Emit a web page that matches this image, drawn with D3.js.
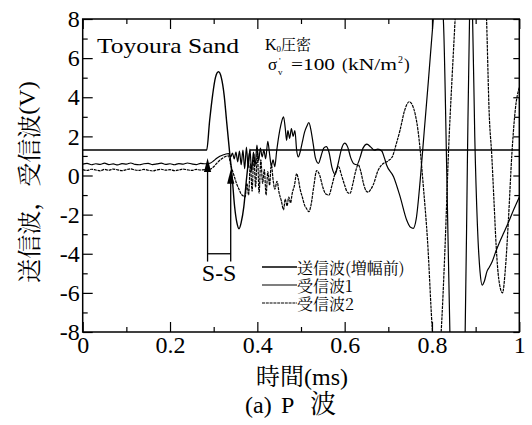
<!DOCTYPE html>
<html>
<head>
<meta charset="utf-8">
<script src="https://cdn.jsdelivr.net/npm/d3@7"></script>
<style>
  body { margin: 0; background: #fff; }
  svg { display: block; }
  .serif { font-family: "Liberation Serif", "DejaVu Serif", serif; }
  .cjk { font-family: "Noto Serif CJK JP", "Noto Sans CJK JP", serif; }
</style>
</head>
<body>
<svg id="chart" width="532" height="425"></svg>
<script>
// ---- axis ticks ----
const xTicks = [0, 0.2, 0.4, 0.6, 0.8, 1];
const xTickLabels = ["0", "0.2", "0.4", "0.6", "0.8", "1"];
const xMinorTicks = [0.1, 0.3, 0.5, 0.7, 0.9];
const yTicks = [-8, -6, -4, -2, 0, 2, 4, 6, 8];
const yTickLabels = ["-8", "-6", "-4", "-2", "0", "2", "4", "6", "8"];
const yMinorTicks = [-7, -5, -3, -1, 1, 3, 5, 7];

const seriesNames = ["送信波(増幅前)", "受信波1", "受信波2"];

// ---- waveforms: [time (ms), voltage (V)] ----
const txWave = [
  [0, 1.3], [0.284, 1.3], [0.2907, 2.8], [0.2975, 4.1], [0.304, 5.0], [0.311, 5.3],
  [0.3175, 5.0], [0.324, 4.1], [0.3295, 2.8], [0.336, 1.3], [0.342, 0.0], [0.348, -1.6],
  [0.353, -2.4], [0.358, -2.72], [0.363, -2.4], [0.369, -1.6], [0.376, 0.0], [0.384, 1.3],
  [1, 1.3]
];

const rx1Wave = [
  [0, 0.58], [0.01, 0.62], [0.02, 0.55], [0.03, 0.60], [0.04, 0.57], [0.05, 0.63], [0.06, 0.56],
  [0.07, 0.59], [0.08, 0.54], [0.09, 0.61], [0.10, 0.58], [0.11, 0.64], [0.12, 0.57], [0.13, 0.55],
  [0.14, 0.60], [0.15, 0.62], [0.16, 0.56], [0.17, 0.59], [0.18, 0.63], [0.19, 0.57], [0.20, 0.60],
  [0.21, 0.55], [0.22, 0.61], [0.23, 0.58], [0.24, 0.64], [0.25, 0.59], [0.26, 0.56], [0.27, 0.62],
  [0.28, 0.60], [0.285, 0.60], [0.293, 0.64], [0.300, 0.75], [0.307, 0.88], [0.314, 0.98],
  [0.321, 1.05], [0.328, 1.10], [0.334, 1.12], [0.339, 0.95], [0.343, 1.15], [0.347, 0.85],
  [0.351, 1.20], [0.355, 0.70], [0.359, 1.25], [0.363, 0.55], [0.367, 1.30], [0.371, 0.35],
  [0.375, 1.45], [0.379, 0.40], [0.383, 1.35], [0.387, 0.20], [0.391, 1.20], [0.395, 0.50],
  [0.399, 1.55], [0.403, 0.75], [0.407, 1.40], [0.411, 0.95], [0.415, 1.30], [0.419, 0.85],
  [0.424, 1.75], [0.428, 1.10], [0.432, 0.50], [0.436, 0.80], [0.440, 0.45], [0.444, 1.20],
  [0.449, 2.00], [0.454, 2.60], [0.460, 3.00], [0.464, 2.40], [0.467, 1.80], [0.470, 2.30],
  [0.474, 1.90], [0.478, 2.40], [0.482, 2.00], [0.486, 2.30], [0.490, 1.30], [0.494, 0.95],
  [0.498, 1.20], [0.503, 1.70], [0.508, 2.20], [0.513, 2.50], [0.518, 2.70], [0.523, 2.30],
  [0.528, 1.60], [0.533, 0.90], [0.540, 0.62], [0.546, 1.00], [0.552, 1.40], [0.558, 1.48],
  [0.564, 1.20], [0.571, 0.40], [0.578, 0.05], [0.585, 0.60], [0.592, 1.30], [0.600, 1.65],
  [0.607, 1.45], [0.614, 0.90], [0.621, 0.60], [0.628, 0.55], [0.635, 0.90], [0.642, 1.40],
  [0.651, 1.60], [0.660, 1.45], [0.668, 1.30], [0.676, 1.35], [0.685, 1.25], [0.691, 0.90],
  [0.696, 0.54], [0.712, -0.06], [0.727, -1.08], [0.742, -2.27], [0.751, -2.65], [0.757, -2.70],
  [0.764, -2.20], [0.773, -0.25], [0.782, 2.2], [0.792, 4.9], [0.803, 8.0], [0.814, 10.5],
  [0.826, 8.0], [0.834, 0.0], [0.841, -8.0], [0.858, -16.0], [0.876, -8.0], [0.881, 0.5],
  [0.886, 8.0], [0.8895, 9.6], [0.893, 8.0], [0.898, 2.0], [0.904, -2.5], [0.910, -4.9],
  [0.915, -5.6], [0.920, -5.4], [0.926, -4.9], [0.931, -4.7], [0.938, -4.4], [0.946, -3.9],
  [0.955, -3.4], [0.965, -2.9], [0.975, -2.4], [0.988, -1.7], [1.0, -1.1]
];

const rx2Wave = [
  [0, 0.30], [0.01, 0.26], [0.02, 0.32], [0.03, 0.28], [0.04, 0.24], [0.05, 0.31], [0.06, 0.27],
  [0.07, 0.33], [0.08, 0.29], [0.09, 0.25], [0.10, 0.30], [0.11, 0.34], [0.12, 0.28], [0.13, 0.26],
  [0.14, 0.31], [0.15, 0.27], [0.16, 0.23], [0.17, 0.29], [0.18, 0.32], [0.19, 0.27], [0.20, 0.30],
  [0.21, 0.25], [0.22, 0.28], [0.23, 0.33], [0.24, 0.29], [0.25, 0.26], [0.26, 0.31], [0.27, 0.28],
  [0.28, 0.30], [0.285, 0.28], [0.293, 0.33], [0.300, 0.45], [0.307, 0.62], [0.314, 0.78],
  [0.321, 0.90], [0.328, 0.98], [0.334, 1.00], [0.339, 0.55], [0.343, 0.25], [0.348, -0.10],
  [0.353, -0.45], [0.358, -0.70], [0.363, -0.95], [0.368, -1.05], [0.372, -1.10], [0.376, -0.40],
  [0.380, -1.00], [0.384, 0.60], [0.388, -0.80], [0.392, 1.10], [0.396, -0.60], [0.400, 1.25],
  [0.404, -0.90], [0.408, 0.80], [0.412, -0.40], [0.416, 0.30], [0.420, -1.00], [0.424, 0.20],
  [0.428, -0.50], [0.432, 0.60], [0.436, -0.20], [0.440, -0.70], [0.445, -0.30], [0.450, -0.90],
  [0.455, -1.30], [0.460, -1.75], [0.464, -1.20], [0.468, -1.55], [0.472, -1.10], [0.476, -1.40],
  [0.480, -0.90], [0.485, -0.50], [0.490, 0.10], [0.494, -0.20], [0.498, -0.70], [0.503, -1.10],
  [0.508, -1.50], [0.513, -1.70], [0.518, -1.85], [0.523, -1.50], [0.529, -0.60], [0.536, 0.25],
  [0.543, 0.00], [0.550, -0.60], [0.557, -0.95], [0.564, -1.00], [0.571, -0.50], [0.578, 0.10],
  [0.586, 0.45], [0.593, 0.00], [0.600, -0.50], [0.606, -0.85], [0.612, -0.92], [0.619, -0.40],
  [0.625, 0.20], [0.631, 0.55], [0.637, 0.20], [0.643, -0.40], [0.649, -0.78], [0.654, -0.85],
  [0.660, -0.70], [0.665, -0.50], [0.677, 0.28], [0.689, 0.62], [0.700, 0.75], [0.710, 1.00],
  [0.718, 1.60], [0.727, 2.33], [0.737, 3.30], [0.748, 3.77], [0.756, 3.55], [0.762, 3.09],
  [0.768, 2.30], [0.773, 1.30], [0.780, -0.50], [0.790, -3.40], [0.800, -7.60], [0.811, -10.5],
  [0.821, -8.0], [0.830, -3.6], [0.838, 1.3], [0.846, 5.0], [0.853, 8.0], [0.868, 15.0],
  [0.889, 19.0], [0.910, 15.0], [0.925, 8.0], [0.931, 3.2], [0.937, 1.0], [0.942, -1.3],
  [0.947, -3.6], [0.953, -5.3], [0.9615, -6.0], [0.968, -4.8], [0.975, -2.3], [0.983, 1.1],
  [0.991, 3.4], [1.0, 4.5]
];

// arrival picks (ms) and arrow tip levels (V)
const arrivalTimes = [0.286, 0.339];
const arrivalTips = [0.9, 0.3];

// ---- layout ----
const plot = { left: 82.7, right: 519.3, top: 19, bottom: 332 };

const svg = d3.select("#chart");
const x = d3.scaleLinear().domain([0, 1]).range([plot.left, plot.right]);
const y = d3.scaleLinear().domain([-8, 8]).range([plot.bottom, plot.top]);

svg.append("defs").append("clipPath").attr("id", "plotClip")
  .append("rect")
  .attr("x", plot.left).attr("y", plot.top)
  .attr("width", plot.right - plot.left).attr("height", plot.bottom - plot.top);

// ---- waveforms ----
const line = d3.line().x(d => x(d[0])).y(d => y(d[1])).curve(d3.curveMonotoneX);
const styles = [
  { data: txWave, width: 1.4, dash: null },
  { data: rx1Wave, width: 1.2, dash: null },
  { data: rx2Wave, width: 1.2, dash: "3,0.8" }
];
const waves = svg.append("g").attr("clip-path", "url(#plotClip)");
styles.forEach(s => {
  waves.append("path")
    .attr("d", line(s.data))
    .attr("fill", "none")
    .attr("stroke", "#000")
    .attr("stroke-width", s.width)
    .attr("stroke-linejoin", "round")
    .attr("stroke-dasharray", s.dash);
});

// ---- axes (inward ticks on all four sides) ----
function styleAxis(g, labelled) {
  g.attr("font-family", null).attr("font-size", null);
  g.select(".domain").remove();
  g.selectAll(".tick line").attr("stroke", "#000").attr("stroke-width", 1.2);
  if (!labelled) {
    g.selectAll(".tick text").remove();
  } else {
    g.selectAll(".tick text")
      .attr("class", "serif")
      .style("font-size", "24px")
      .attr("fill", "#000");
  }
}
const fmtX = d => xTickLabels[xTicks.indexOf(d)];
const fmtY = d => yTickLabels[yTicks.indexOf(d)];

svg.append("g").attr("transform", `translate(0,${plot.bottom})`)
  .call(d3.axisBottom(x).tickValues(xTicks).tickSize(-10).tickPadding(4).tickFormat(fmtX))
  .call(g => styleAxis(g, true));
svg.append("g").attr("transform", `translate(0,${plot.bottom})`)
  .call(d3.axisBottom(x).tickValues(xMinorTicks).tickSize(-5).tickFormat(""))
  .call(g => styleAxis(g, false));
svg.append("g").attr("transform", `translate(0,${plot.top})`)
  .call(d3.axisTop(x).tickValues(xTicks).tickSize(-10).tickFormat(""))
  .call(g => styleAxis(g, false));
svg.append("g").attr("transform", `translate(0,${plot.top})`)
  .call(d3.axisTop(x).tickValues(xMinorTicks).tickSize(-5).tickFormat(""))
  .call(g => styleAxis(g, false));

svg.append("g").attr("transform", `translate(${plot.left},0)`)
  .call(d3.axisLeft(y).tickValues(yTicks).tickSize(-10).tickPadding(3).tickFormat(fmtY))
  .call(g => styleAxis(g, true));
svg.append("g").attr("transform", `translate(${plot.left},0)`)
  .call(d3.axisLeft(y).tickValues(yMinorTicks).tickSize(-5).tickFormat(""))
  .call(g => styleAxis(g, false));
svg.append("g").attr("transform", `translate(${plot.right},0)`)
  .call(d3.axisRight(y).tickValues(yTicks).tickSize(-6).tickFormat(""))
  .call(g => styleAxis(g, false));
svg.append("g").attr("transform", `translate(${plot.right},0)`)
  .call(d3.axisRight(y).tickValues(yMinorTicks).tickSize(-5).tickFormat(""))
  .call(g => styleAxis(g, false));

svg.append("rect")
  .attr("x", plot.left).attr("y", plot.top)
  .attr("width", plot.right - plot.left).attr("height", plot.bottom - plot.top)
  .attr("fill", "none").attr("stroke", "#000").attr("stroke-width", 1.5);

// ---- axis titles ----
const yTitle = svg.append("text")
  .attr("transform", "translate(27,182) rotate(-90)")
  .attr("text-anchor", "middle")
  .attr("dominant-baseline", "central")
  .attr("fill", "#000");
yTitle.append("tspan").attr("class", "cjk").style("font-size", "24px").text("送信波，受信波");
yTitle.append("tspan").attr("class", "serif").style("font-size", "24px").text("(V)");

const xTitle = svg.append("text")
  .attr("x", 302).attr("y", 385)
  .attr("text-anchor", "middle")
  .attr("fill", "#000");
xTitle.append("tspan").attr("class", "cjk").style("font-size", "24px").text("時間");
xTitle.append("tspan").attr("class", "serif").style("font-size", "24px").text("(ms)");

const caption = svg.append("text").attr("y", 413).attr("fill", "#000");
caption.append("tspan").attr("class", "serif").attr("x", 245).style("font-size", "24px").text("(a)");
caption.append("tspan").attr("class", "serif").attr("x", 281).style("font-size", "24px").text("P");
caption.append("tspan").attr("class", "cjk").attr("x", 310).style("font-size", "26px").text("波");

// ---- annotations ----
svg.append("text")
  .attr("class", "serif")
  .attr("x", 97).attr("y", 53)
  .style("font-size", "22px")
  .attr("textLength", 142).attr("lengthAdjust", "spacingAndGlyphs")
  .attr("fill", "#000")
  .text("Toyoura Sand");

const k0 = svg.append("text").attr("x", 265).attr("y", 50).attr("fill", "#000");
k0.append("tspan").attr("class", "serif").style("font-size", "16px").text("K");
k0.append("tspan").attr("class", "serif").style("font-size", "9px").attr("dy", 2).text("0");
k0.append("tspan").attr("class", "cjk").style("font-size", "15px").attr("dy", -2).text("圧密");

// σ'v with the prime and the subscript stacked after σ
const sig = svg.append("text").attr("class", "serif").attr("y", 70).attr("fill", "#000")
  .style("font-size", "17px");
sig.append("tspan").attr("x", 268).text("σ");
sig.append("tspan").attr("x", 279).attr("y", 64).style("font-size", "9px").text("'");
sig.append("tspan").attr("x", 278).attr("y", 75).style("font-size", "9px").text("v");
sig.append("tspan").attr("x", 291).attr("y", 70)
  .attr("textLength", 44).attr("lengthAdjust", "spacingAndGlyphs").text("=100");
sig.append("tspan").attr("x", 342).text("(");
sig.append("tspan").attr("x", 348)
  .attr("textLength", 49).attr("lengthAdjust", "spacingAndGlyphs").text("kN/m");
sig.append("tspan").attr("x", 398).attr("y", 63).style("font-size", "10px").text("2");
sig.append("tspan").attr("x", 404).attr("y", 70).text(")");

// arrival arrows and the S-S interval bar
const ann = svg.append("g").attr("stroke", "#000").attr("fill", "#000");
arrivalTimes.forEach((t, i) => {
  const px = x(t), tipY = y(arrivalTips[i]);
  ann.append("line")
    .attr("x1", px).attr("x2", px)
    .attr("y1", tipY + 10).attr("y2", y(-4.4))
    .attr("stroke-width", 1.3);
  ann.append("path")
    .attr("d", `M${px},${tipY} L${px - 3.6},${tipY + 14} L${px + 3.6},${tipY + 14} Z`)
    .attr("stroke", "none");
});
ann.append("line")
  .attr("x1", x(arrivalTimes[0])).attr("x2", x(arrivalTimes[1]))
  .attr("y1", y(-4)).attr("y2", y(-4))
  .attr("stroke-width", 1.3);
svg.append("text")
  .attr("class", "serif")
  .attr("x", (x(arrivalTimes[0]) + x(arrivalTimes[1])) / 2).attr("y", 281)
  .attr("text-anchor", "middle")
  .style("font-size", "24px").attr("fill", "#000")
  .text("S-S");

// ---- legend ----
const legendY = [267, 285, 303];
const legend = svg.append("g");
seriesNames.forEach((name, i) => {
  legend.append("line")
    .attr("x1", 262).attr("x2", 297)
    .attr("y1", legendY[i]).attr("y2", legendY[i])
    .attr("stroke", "#000")
    .attr("stroke-width", styles[i].width)
    .attr("stroke-dasharray", styles[i].dash);
  legend.append("text")
    .attr("class", "cjk")
    .attr("x", 297).attr("y", legendY[i])
    .attr("dominant-baseline", "central")
    .style("font-size", "16px").attr("fill", "#000")
    .text(name);
});
</script>
</body>
</html>
